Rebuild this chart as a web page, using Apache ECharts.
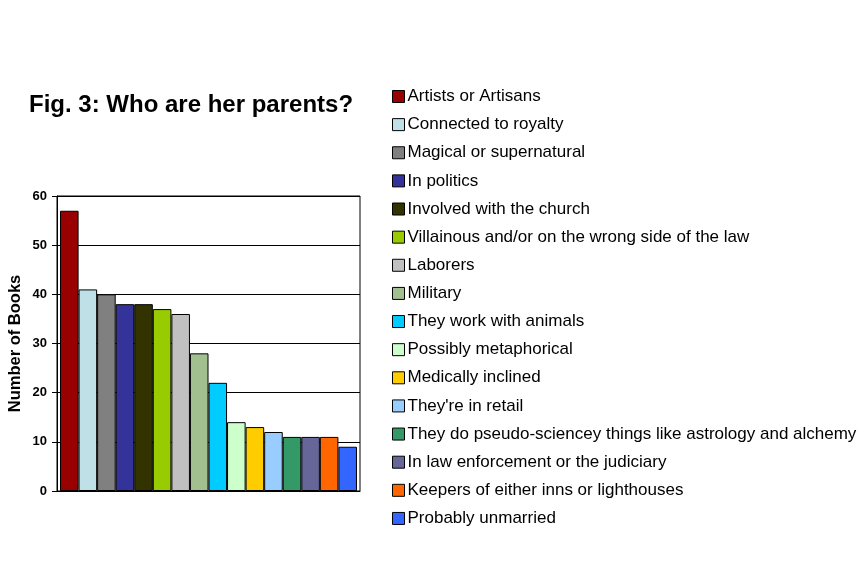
<!DOCTYPE html>
<html>
<head>
<meta charset="utf-8">
<script src="https://cdn.jsdelivr.net/npm/echarts@6/dist/echarts.min.js"></script>
<style>html,body{margin:0;padding:0;background:#fff;}#c{width:862px;height:575px;}</style>
</head>
<body>
<div id="c"></div>
<script>
var seriesNames = [
  "Artists or Artisans",
  "Connected to royalty",
  "Magical or supernatural",
  "In politics",
  "Involved with the church",
  "Villainous and/or on the wrong side of the law",
  "Laborers",
  "Military",
  "They work with animals",
  "Possibly metaphorical",
  "Medically inclined",
  "They're in retail",
  "They do pseudo-sciencey things like astrology and alchemy",
  "In law enforcement or the judiciary",
  "Keepers of either inns or lighthouses",
  "Probably unmarried"
];
var seriesValues = [57, 41, 40, 38, 38, 37, 36, 28, 22, 14, 13, 12, 11, 11, 11, 9];
var seriesColors = ["#990000", "#BEE0E6", "#808080", "#333399", "#333300", "#99CC00", "#C0C0C0", "#A2C08F",
  "#00CCFF", "#CCFFCC", "#FFCC00", "#99CCFF", "#339966", "#666699", "#FF6600", "#3366FF"];
var categories = [""];
var yTicks = [0, 10, 20, 30, 40, 50, 60];

var font = "Arial, 'Liberation Sans', sans-serif";
var chart = echarts.init(document.getElementById('c'), null, {renderer: 'canvas'});
var series = seriesNames.map(function (n, i) {
  return {
    name: n,
    type: 'bar',
    data: [seriesValues[i]],
    barGap: '0%',
    barWidth: 18.56,
    itemStyle: {color: seriesColors[i], borderColor: '#000', borderWidth: 1},
    emphasis: {disabled: true}
  };
});
chart.setOption({
  animation: false,
  backgroundColor: '#fff',
  title: {
    text: 'Fig. 3: Who are her parents?',
    left: 29, top: 93, padding: 0,
    textStyle: {fontFamily: font, fontSize: 24, fontWeight: 'bold', color: '#000'}
  },
  legend: {
    orient: 'vertical',
    left: 392, top: 88, padding: 0,
    itemWidth: 12, itemHeight: 12,
    itemGap: 11.13,
    icon: 'rect',
    textStyle: {fontFamily: font, fontSize: 17, color: '#000', lineHeight: 17, padding: [0, 0, 0, -2]},
    itemStyle: {borderColor: '#000', borderWidth: 1},
    data: seriesNames
  },
  grid: {
    left: 57, top: 196, width: 303, height: 295,
    show: true, borderColor: '#000', borderWidth: 1, backgroundColor: '#fff'
  },
  xAxis: {
    type: 'category',
    data: categories,
    axisLine: {lineStyle: {color: '#000'}},
    axisTick: {show: false},
    axisLabel: {show: false}
  },
  yAxis: {
    type: 'value',
    min: yTicks[0], max: yTicks[yTicks.length - 1], interval: 10,
    name: 'Number of Books',
    nameLocation: 'middle',
    nameRotate: 90,
    nameGap: 33,
    nameTextStyle: {fontFamily: font, fontSize: 16.5, fontWeight: 'bold', color: '#000'},
    axisLine: {show: true, lineStyle: {color: '#000'}},
    axisTick: {show: true, length: 5, lineStyle: {color: '#000'}},
    axisLabel: {fontFamily: font, fontSize: 13, fontWeight: 'bold', color: '#000', margin: 10},
    splitLine: {show: true, lineStyle: {color: '#000', width: 1}}
  },
  series: series
});
</script>
</body>
</html>
